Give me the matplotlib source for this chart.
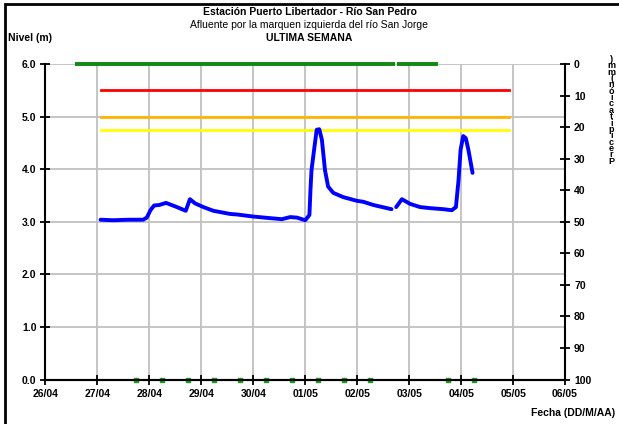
import numpy as np
import matplotlib.pyplot as plt
from matplotlib.patches import Rectangle

plt.rcParams['font.family'] = ['Liberation Sans', 'DejaVu Sans']

# days counted from 26/04 00:00
dias = ['26/04', '27/04', '28/04', '29/04', '30/04', '01/05',
        '02/05', '03/05', '04/05', '05/05', '06/05']

# nivel del rio (m)
t_nivel = [1.06, 1.30, 1.60, 1.88, 1.95, 2.02, 2.09, 2.19, 2.32, 2.53, 2.70,
           2.78, 2.88, 3.04, 3.23, 3.55, 3.68, 4.00, 4.32, 4.55, 4.71, 4.84,
           5.00, 5.08, 5.10, 5.12, 5.17, 5.22, 5.27, 5.32, 5.38, 5.44, 5.54,
           5.73, 5.99, 6.12, 6.31, 6.66, np.nan, 6.75, 6.86, 7.02, 7.21,
           7.40, 7.66, 7.82, 7.90, 7.95, 7.99, 8.04, 8.09, 8.14, 8.22]
nivel = [3.04, 3.03, 3.04, 3.04, 3.08, 3.22, 3.31, 3.32, 3.36, 3.28, 3.21,
         3.43, 3.35, 3.28, 3.21, 3.15, 3.14, 3.10, 3.07, 3.05, 3.09, 3.08,
         3.03, 3.13, 3.60, 3.98, 4.37, 4.75, 4.76, 4.56, 3.98, 3.67, 3.55,
         3.47, 3.40, 3.38, 3.32, 3.24, np.nan, 3.28, 3.43, 3.34, 3.28,
         3.26, 3.24, 3.22, 3.28, 3.79, 4.37, 4.63, 4.59, 4.37, 3.93]

# niveles de alerta (m)
t_alerta = [1.07, 8.93]
alerta_roja = 5.5
alerta_naranja = 5.0
alerta_amarilla = 4.75

# precipitacion (mm), eje derecho
t_precip = [0.57, 6.72, np.nan, 6.76, 7.56]
precip = [0, 0, np.nan, 0, 0]

# marcas verdes sobre el eje
t_marcas = [1.75, 2.25, 2.75, 3.25, 3.75, 4.25, 4.75, 5.25, 5.75, 6.25, 7.75, 8.25]
marcas = [0.0] * len(t_marcas)

fig = plt.figure(figsize=(6.19, 4.24), dpi=100)
ax = fig.add_axes([0.0735, 0.1047, 0.8393, 0.7443])
ax2 = ax.twinx()

ax.set_xlim(0, 10)
ax.set_ylim(0, 6)
ax2.set_ylim(100, 0)

ax.grid(True, color='#c0c0c0', lw=1.3)
ax.set_axisbelow(True)

ax.plot(t_alerta, [alerta_roja] * 2, color='#ff0000', lw=2, zorder=3)
ax.plot(t_alerta, [alerta_naranja] * 2, color='#ffb400', lw=2, zorder=3)
ax.plot(t_alerta, [alerta_amarilla] * 2, color='#ffff00', lw=2, zorder=3)
ax.plot(t_nivel, nivel, color='#0000ff', lw=2.8, zorder=4, solid_capstyle='round')
ax.plot(t_marcas, marcas, ls='none', marker='s', ms=2.5, color='#1a9a1a',
        clip_on=False, zorder=5)
ax2.plot(t_precip, precip, color='#118811', lw=2.8, clip_on=False,
         solid_capstyle='butt')

ax.set_xticks(range(len(dias)))
ax.set_xticklabels(dias)
ax.set_yticks(np.arange(0, 6.1, 1.0))
ax.set_yticklabels(['%.1f' % v for v in np.arange(0, 6.1, 1.0)])
ax2.set_yticks(range(0, 101, 10))

for a in (ax, ax2):
    a.spines['top'].set_visible(False)
    for s in ('left', 'right', 'bottom'):
        a.spines[s].set_linewidth(1.5)
    a.tick_params(direction='inout', length=7, width=1.3, labelsize=7.5, pad=3)
    for lab in a.get_xticklabels() + a.get_yticklabels():
        lab.set_fontweight('bold')
ax2.spines['left'].set_visible(False)
ax.spines['right'].set_visible(False)

fig.text(0.5, 0.972, 'Estación Puerto Libertador - Río San Pedro', ha='center',
         va='center', fontsize=7.5, fontweight='bold')
fig.text(0.5, 0.941, 'Afluente por la marquen izquierda del río San Jorge',
         ha='center', va='center', fontsize=7.5)
fig.text(0.5, 0.911, 'ULTIMA SEMANA', ha='center', va='center',
         fontsize=7.5, fontweight='bold')
fig.text(0.013, 0.911, 'Nivel (m)', ha='left', va='center',
         fontsize=7.5, fontweight='bold')
fig.text(0.993, 0.027, 'Fecha (DD/M/AA)', ha='right', va='center',
         fontsize=7.5, fontweight='bold')
fig.text(0.988, 0.87, '\n'.join(')mm(nóicatipicerP'), ha='center', va='top',
         fontsize=6.5, fontweight='bold', linespacing=0.62)

fig.patches.append(Rectangle((0.008, -0.1), 1.2, 1.09, transform=fig.transFigure,
                             fill=False, ec='black', lw=2))

fig.savefig('out.png', dpi=100)
